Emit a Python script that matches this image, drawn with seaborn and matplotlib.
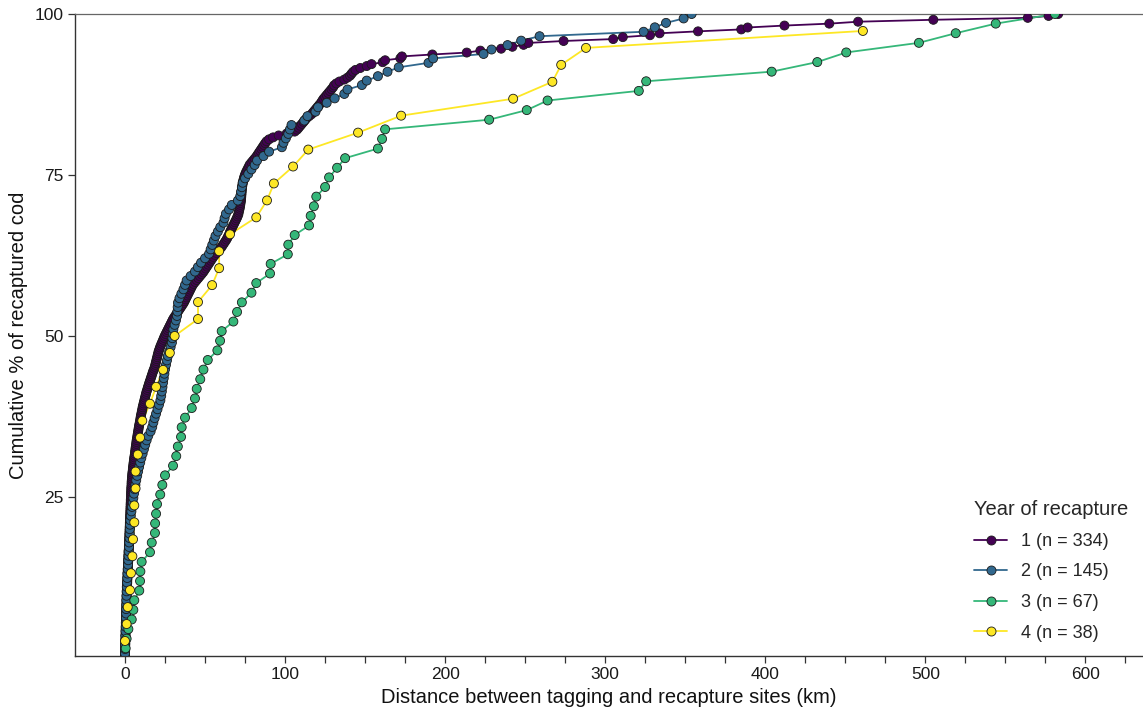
import matplotlib
matplotlib.use("Agg")
import matplotlib.pyplot as plt
import pandas as pd
import seaborn as sns
from matplotlib.lines import Line2D

# ---------------- data ----------------
years = ["1", "2", "3", "4"]
n_recaptured = [334, 145, 67, 38]
colors = ["#440154", "#31688E", "#35B779", "#FDE725"]

# sorted distances (km) of recaptured cod, one value per fish
dist_year1 = [
    0, 0, 0, 0.1, 0.1, 0.1, 0.2, 0.2, 0.2, 0.3,
    0.3, 0.3, 0.4, 0.4, 0.4, 0.5, 0.5, 0.5, 0.6, 0.6,
    0.6, 0.7, 0.7, 0.7, 0.8, 0.8, 0.8, 0.9, 0.9, 1.0,
    1.0, 1.0, 1.1, 1.1, 1.2, 1.2, 1.3, 1.3, 1.4, 1.4,
    1.5, 1.5, 1.6, 1.6, 1.7, 1.7, 1.8, 1.9, 1.9, 2.0,
    2.0, 2.1, 2.1, 2.2, 2.2, 2.3, 2.4, 2.4, 2.5, 2.5,
    2.6, 2.6, 2.7, 2.7, 2.8, 2.8, 2.9, 2.9, 3.0, 3.0,
    3.1, 3.1, 3.2, 3.2, 3.3, 3.3, 3.4, 3.4, 3.5, 3.5,
    3.6, 3.6, 3.7, 3.7, 3.8, 3.8, 3.9, 3.9, 4.0, 4.1,
    4.1, 4.2, 4.3, 4.4, 4.5, 4.6, 4.8, 4.9, 5.0, 5.2,
    5.3, 5.5, 5.6, 5.8, 6.0, 6.2, 6.3, 6.5, 6.6, 6.8,
    7.0, 7.1, 7.3, 7.5, 7.7, 7.9, 8.1, 8.3, 8.5, 8.7,
    8.9, 9.2, 9.4, 9.6, 9.8, 10.0, 10.3, 10.5, 10.8, 11.0,
    11.3, 11.6, 11.9, 12.2, 12.5, 12.8, 13.1, 13.4, 13.8, 14.2,
    14.5, 14.9, 15.3, 15.7, 16.1, 16.5, 16.9, 17.3, 17.7, 18.2,
    18.6, 18.9, 19.2, 19.5, 19.8, 20.1, 20.4, 20.7, 21.0, 21.4,
    21.8, 22.3, 22.8, 23.3, 23.8, 24.3, 24.8, 25.4, 26.0, 26.6,
    27.2, 27.8, 28.4, 29.0, 29.6, 30.2, 31.0, 31.8, 32.6, 33.4,
    34.2, 35.0, 35.8, 36.6, 37.2, 37.8, 38.4, 39.0, 39.6, 40.2,
    40.8, 41.4, 42.0, 42.8, 43.8, 44.8, 45.8, 46.8, 47.8, 48.8,
    49.6, 50.4, 51.2, 52.0, 52.8, 53.6, 54.4, 55.2, 56.2, 57.2,
    58.2, 59.2, 60.2, 61.0, 61.8, 62.6, 63.4, 64.0, 64.6, 65.2,
    65.6, 66.2, 66.8, 67.4, 68.0, 68.6, 69.2, 69.8, 70.3, 70.8,
    71.0, 71.3, 71.6, 71.8, 72.0, 72.2, 72.4, 72.5, 72.6, 72.7,
    72.8, 72.9, 73.0, 73.1, 73.3, 73.5, 73.7, 74.0, 74.3, 74.7,
    75.1, 75.6, 76.2, 76.8, 77.4, 78.0, 79.0, 80.0, 81.0, 82.0,
    82.8, 83.6, 84.4, 85.2, 86.0, 86.8, 87.6, 88.5, 90.0, 92.5,
    96.0, 101.0, 106.0, 107.5, 108.5, 109.5, 110.5, 111.5, 112.5, 113.5,
    115.0, 116.5, 117.5, 118.5, 119.5, 120.5, 121.5, 122.5, 123.2, 124.0,
    125.0, 126.0, 127.0, 128.0, 129.0, 130.0, 130.6, 132.0, 134.0, 137.0,
    139.0, 140.6, 141.5, 142.5, 144.0, 147.0, 151.0, 154.0, 161.0, 162.5,
    172.0, 173.0, 192.0, 213.5, 222.0, 235.0, 242.0, 249.0, 252.0, 274.0,
    305.0, 311.0, 328.0, 334.0, 358.0, 385.0, 389.0, 412.0, 440.0, 458.0,
    505.0, 564.0, 577.0, 583.0,
]

dist_year2 = [
    0, 0, 0, 0.1, 0.2, 0.3, 0.4, 0.5, 0.6, 0.7,
    0.7, 0.8, 0.8, 0.9, 1.0, 1.1, 1.2, 1.4, 1.5, 1.7,
    1.9, 2.0, 2.2, 2.3, 2.5, 2.6, 2.8, 2.9, 3.0, 3.1,
    3.3, 3.6, 4.0, 4.4, 4.8, 5.2, 5.6, 6.0, 6.5, 7.0,
    7.6, 8.2, 8.8, 9.5, 10.2, 11.0, 11.8, 12.6, 13.5, 14.5,
    16.0, 17.0, 17.7, 18.5, 19.4, 20.3, 21.2, 22.1, 22.6, 23.0,
    23.4, 23.8, 24.2, 24.6, 25.0, 25.6, 26.2, 26.8, 27.6, 28.5,
    29.3, 29.6, 29.9, 30.2, 31.0, 31.8, 32.5, 32.7, 32.9, 33.1,
    34.0, 35.2, 36.5, 37.5, 38.5, 41.0, 43.7, 45.5, 47.5, 50.0,
    52.5, 53.5, 54.5, 55.5, 56.5, 58.0, 59.5, 61.5, 62.2, 63.0,
    65.0, 66.7, 70.5, 72.0, 72.5, 73.0, 73.5, 75.0, 77.0, 79.0,
    81.0, 82.5, 86.5, 90.0, 98.0, 99.0, 100.5, 102.0, 103.0, 104.0,
    112.0, 114.0, 119.0, 120.6, 126.0, 131.0, 137.0, 139.0, 148.0, 151.0,
    158.0, 164.0, 171.0, 189.6, 192.5, 224.0, 229.0, 239.0, 247.5, 259.0,
    324.0, 331.0, 338.0, 349.0, 354.0,
]

dist_year3 = [
    0.4, 1.0, 2.1, 4.2, 5.2, 5.8, 8.9, 9.4, 9.6, 10.4,
    15.6, 16.7, 18.7, 18.8, 19.4, 20.0, 22.0, 23.3, 25.0, 30.0,
    32.0, 33.0, 35.0, 35.4, 37.5, 41.7, 43.7, 44.8, 47.0, 49.0,
    51.7, 57.7, 59.4, 60.4, 67.7, 70.0, 73.0, 79.0, 82.0, 90.6,
    91.0, 101.7, 102.0, 106.0, 115.0, 116.0, 118.0, 119.5, 125.0, 127.5,
    132.5, 137.5, 158.0, 160.6, 162.5, 227.5, 251.0, 264.0, 321.0, 325.6,
    404.0, 432.5, 450.6, 496.0, 519.0, 544.0, 581.0,
]

# year 4: 37 of the 38 fish fall inside the plotted distance range
dist_year4 = [
    0.0, 1.0, 1.7, 3.1, 3.7, 4.6, 5.0, 5.8, 5.8, 6.6,
    6.6, 8.0, 9.4, 10.8, 15.6, 19.4, 23.8, 28.0, 31.0, 45.6,
    45.6, 54.4, 58.8, 58.8, 65.6, 82.0, 88.7, 93.0, 105.0, 114.5,
    145.6, 172.5, 242.5, 267.0, 272.5, 288.0, 461.0,
]

distances = [dist_year1, dist_year2, dist_year3, dist_year4]

rows = []
for year, n, dist in zip(years, n_recaptured, distances):
    for rank, km in enumerate(dist, start=1):
        rows.append({"year": year, "km": km, "pct": rank / n * 100})
df = pd.DataFrame(rows)

# ---------------- style ----------------
sns.set_style("ticks")
plt.rcParams["font.family"] = ["Liberation Sans", "DejaVu Sans"]

fig = plt.figure(figsize=(11.43, 7.13), dpi=100)
ax = fig.add_axes([75 / 1143, 57 / 713, 1068 / 1143, 642 / 713])

sns.lineplot(data=df, x="km", y="pct", hue="year", palette=colors,
             sort=False, estimator=None, linewidth=1.3, legend=False,
             ax=ax, zorder=2)
sns.scatterplot(data=df, x="km", y="pct", hue="year", palette=colors,
                s=42, edgecolor="#1a1a1a", linewidth=0.6, legend=False,
                ax=ax, zorder=3)

ax.set_xlim(-31.25, 636)
ax.set_ylim(100 / 334, 100)

xt = list(range(0, 626, 25))
ax.set_xticks(xt)
ax.set_xticklabels([str(v) if v % 100 == 0 else "" for v in xt])
ax.set_yticks([25, 50, 75, 100])
ax.tick_params(axis="both", length=5, width=0.9, color="#333333",
               labelsize=12.5, labelcolor="#1a1a1a", pad=3)

for side in ["left", "bottom"]:
    ax.spines[side].set_color("#333333")
    ax.spines[side].set_linewidth(1.0)
ax.spines["top"].set_visible(True)
ax.spines["top"].set_color("#666666")
ax.spines["top"].set_linewidth(0.9)
ax.spines["right"].set_visible(False)

ax.set_xlabel("Distance between tagging and recapture sites (km)",
              fontsize=14.5, color="#111111", labelpad=4)
ax.set_ylabel("Cumulative % of recaptured cod", fontsize=14.5,
              color="#111111", labelpad=5)

handles = [
    Line2D([0], [0], color=c, lw=1.3, marker="o", markersize=6.5,
           markerfacecolor=c, markeredgecolor="#1a1a1a", markeredgewidth=0.6)
    for c in colors
]
labels = [f"{y} (n = {n})" for y, n in zip(years, n_recaptured)]
leg = ax.legend(handles, labels, title="Year of recapture", loc="lower right",
                bbox_to_anchor=(1.0, 0.0), frameon=False, fontsize=13,
                title_fontsize=14.5, handlelength=1.8, handletextpad=0.8,
                labelspacing=0.75, borderaxespad=0.4)
leg._legend_box.align = "left"

fig.savefig("out.png", dpi=100)
